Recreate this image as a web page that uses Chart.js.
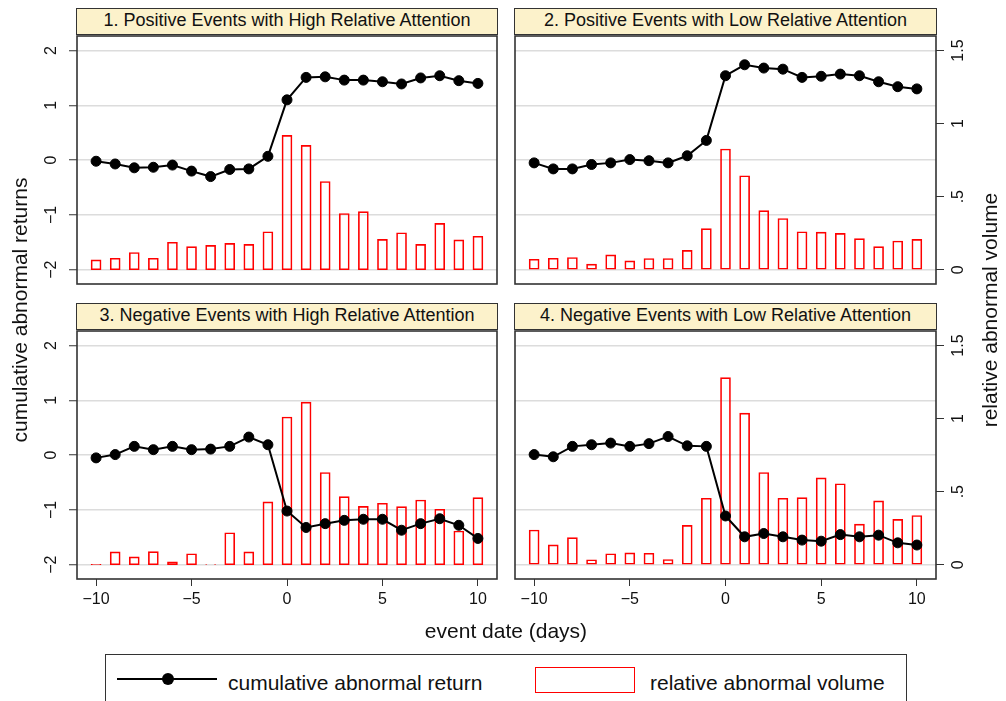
<!DOCTYPE html>
<html>
<head>
<meta charset="utf-8">
<script src="https://cdn.jsdelivr.net/npm/chart.js@4.4.0/dist/chart.umd.min.js"></script>
<style>
  body { margin: 0; background: #fff; font-family: "Liberation Sans", Arial, sans-serif; color: #111; }
  #wrap { position: relative; width: 1006px; height: 701px; overflow: hidden; }
  canvas { position: absolute; }
  .strip { position: absolute; box-sizing: border-box; height: 27px; background: #fcf2cb;
           border: 1.5px solid #333; font-size: 18px; line-height: 23px; text-align: center; white-space: nowrap; }
  .atitle { position: absolute; width: 300px; height: 24px; line-height: 24px; font-size: 21px;
            text-align: center; white-space: nowrap; }
  .rot { transform: rotate(-90deg); }
  #legend { position: absolute; left: 105px; top: 654px; width: 802px; height: 70px; box-sizing: border-box;
            border: 1.5px solid #333; }
</style>
</head>
<body>
<div id="wrap">
  <canvas id="p1" width="505" height="262" style="left:0;top:30px"></canvas>
  <canvas id="p2" width="501" height="262" style="left:505px;top:30px"></canvas>
  <canvas id="p3" width="505" height="300" style="left:0;top:325px"></canvas>
  <canvas id="p4" width="501" height="300" style="left:505px;top:325px"></canvas>

  <div class="strip" id="s1" style="left:76px;top:8px;width:422px"></div>
  <div class="strip" id="s2" style="left:514px;top:8px;width:423px"></div>
  <div class="strip" id="s3" style="left:76px;top:303px;width:422px"></div>
  <div class="strip" id="s4" style="left:514px;top:303px;width:423px"></div>

  <div class="atitle rot" style="left:-130px;top:298px">cumulative abnormal returns</div>
  <div class="atitle rot" style="left:840px;top:298px">relative abnormal volume</div>
  <div class="atitle" style="left:356px;top:619px">event date (days)</div>

  <div id="legend"></div>
  <div style="position:absolute;left:117px;top:678px;width:100px;height:2px;background:#000"></div>
  <div style="position:absolute;left:162px;top:673px;width:12px;height:12px;border-radius:50%;background:#000"></div>
  <div style="position:absolute;left:228px;top:671px;font-size:21px;line-height:24px;white-space:nowrap">cumulative abnormal return</div>
  <div style="position:absolute;left:535px;top:667px;width:100px;height:26px;box-sizing:border-box;border:1.5px solid #f00"></div>
  <div style="position:absolute;left:650px;top:671px;font-size:21px;line-height:24px;white-space:nowrap">relative abnormal volume</div>
</div>

<script>
// event window
const days = [-10, -9, -8, -7, -6, -5, -4, -3, -2, -1, 0, 1, 2, 3, 4, 5, 6, 7, 8, 9, 10];

const titles = [
  '1. Positive Events with High Relative Attention',
  '2. Positive Events with Low Relative Attention',
  '3. Negative Events with High Relative Attention',
  '4. Negative Events with Low Relative Attention'
];

// cumulative abnormal returns (left axis)
const car1 = [-0.02, -0.07, -0.14, -0.13, -0.09, -0.20, -0.30, -0.17, -0.16, 0.07, 1.10,
              1.51, 1.52, 1.46, 1.46, 1.43, 1.39, 1.50, 1.54, 1.45, 1.40];
const car2 = [-0.05, -0.16, -0.16, -0.08, -0.05, 0.01, -0.01, -0.05, 0.08, 0.36, 1.54,
              1.74, 1.68, 1.66, 1.51, 1.53, 1.57, 1.54, 1.43, 1.34, 1.30];
const car3 = [-0.05, 0.01, 0.16, 0.10, 0.16, 0.10, 0.11, 0.16, 0.33, 0.19, -1.02,
              -1.32, -1.25, -1.19, -1.17, -1.17, -1.37, -1.25, -1.16, -1.28, -1.52];
const car4 = [0.01, -0.03, 0.16, 0.19, 0.22, 0.16, 0.21, 0.34, 0.17, 0.16, -1.11,
              -1.49, -1.43, -1.49, -1.55, -1.57, -1.45, -1.49, -1.46, -1.60, -1.64];

// relative abnormal volume (right axis)
const vol1 = [0.068, 0.079, 0.118, 0.079, 0.188, 0.158, 0.167, 0.181, 0.174, 0.260, 0.919,
              0.851, 0.604, 0.385, 0.398, 0.208, 0.253, 0.174, 0.317, 0.204, 0.229];
const vol2 = [0.072, 0.079, 0.084, 0.038, 0.102, 0.061, 0.077, 0.077, 0.133, 0.281, 0.826,
              0.643, 0.405, 0.351, 0.260, 0.258, 0.249, 0.213, 0.158, 0.197, 0.208];
const vol3 = [0.003, 0.088, 0.054, 0.090, 0.020, 0.075, 0.002, 0.219, 0.088, 0.430, 1.011,
              1.113, 0.631, 0.466, 0.400, 0.421, 0.398, 0.443, 0.380, 0.231, 0.459];
const vol4 = [0.238, 0.136, 0.186, 0.034, 0.075, 0.081, 0.079, 0.036, 0.269, 0.455, 1.281,
              1.038, 0.631, 0.455, 0.459, 0.595, 0.554, 0.278, 0.437, 0.310, 0.337];

const leftTicks = [-2, -1, 0, 1, 2];
const rightTicks = [0, 0.5, 1, 1.5];
const xTicks = [-10, -5, 0, 5, 10];

Chart.defaults.font.family = "'Liberation Sans', Arial, sans-serif";
Chart.defaults.color = '#111';

const fmtNum = v => (v < 0 ? '\u2212' + Math.abs(v) : String(v));
const fmtVol = v => (v > 0 && v < 1 ? String(v).replace(/^0/, '') : String(v));

// box around the plot region, stata style
const frame = {
  id: 'frame',
  afterDraw(chart) {
    const a = chart.chartArea, c = chart.ctx;
    c.save();
    c.strokeStyle = '#333';
    c.lineWidth = 1.6;
    c.strokeRect(a.left, a.top, a.right - a.left, a.bottom - a.top);
    c.restore();
  }
};

// fixed axis sizes so the four plot areas line up exactly
const noPad = s => { s.paddingTop = 0; s.paddingBottom = 0; s.paddingLeft = 0; s.paddingRight = 0; };

function panel(id, car, vol, showLeft, showRight, showX) {
  const padL = showLeft ? 0 : 10;
  const padR = showRight ? 10 : 8;
  new Chart(document.getElementById(id), {
    type: 'bar',
    data: {
      datasets: [
        {
          type: 'line',
          data: days.map((d, i) => ({ x: d, y: car[i] })),
          yAxisID: 'y',
          borderColor: '#000',
          borderWidth: 2,
          pointRadius: 5,
          pointBorderWidth: 1,
          pointBackgroundColor: '#000',
          pointBorderColor: '#000',
          tension: 0
        },
        {
          type: 'bar',
          data: days.map((d, i) => ({ x: d, y: vol[i] })),
          yAxisID: 'y1',
          backgroundColor: 'rgba(255,255,255,0)',
          borderColor: '#ff0000',
          borderWidth: 1,
          borderSkipped: false,
          barThickness: 10
        }
      ]
    },
    options: {
      responsive: false,
      animation: false,
      devicePixelRatio: 1,
      layout: { padding: { top: 4, bottom: showX ? 6 : 8, left: padL, right: padR } },
      plugins: { legend: { display: false }, tooltip: { enabled: false } },
      scales: {
        x: {
          type: 'linear',
          min: -11,
          max: 11,
          offset: false,
          display: showX,
          afterBuildTicks: s => { s.ticks = xTicks.map(v => ({ value: v })); },
          afterFit: s => { s.height = showX ? 40 : 0; noPad(s); },
          border: { display: false },
          grid: { offset: false, drawOnChartArea: false, tickLength: 7, tickColor: '#333', tickWidth: 1 },
          ticks: { autoSkip: false, maxRotation: 0, padding: 4, font: { size: 16 }, callback: fmtNum }
        },
        y: {
          type: 'linear',
          position: 'left',
          min: -2.26,
          max: 2.265,
          afterBuildTicks: s => { s.ticks = leftTicks.map(v => ({ value: v })); },
          afterFit: s => { s.width = showLeft ? 77 : 0; noPad(s); },
          border: { display: false },
          grid: { color: '#dcdcdc', lineWidth: 1.5, drawTicks: showLeft, tickLength: 8, tickColor: '#333', tickWidth: 1 },
          ticks: { display: showLeft, minRotation: 90, maxRotation: 90, crossAlign: 'center', padding: 8,
                   font: { size: 16 }, callback: fmtNum }
        },
        y1: {
          type: 'linear',
          position: 'right',
          min: -0.0975,
          max: 1.5995,
          display: showRight,
          afterBuildTicks: s => { s.ticks = rightTicks.map(v => ({ value: v })); },
          afterFit: s => { s.width = showRight ? 60 : 0; noPad(s); },
          border: { display: false },
          grid: { drawOnChartArea: false, tickLength: 8, tickColor: '#333', tickWidth: 1 },
          ticks: { minRotation: 90, maxRotation: 90, crossAlign: 'center', padding: 3,
                   font: { size: 16 }, callback: fmtVol }
        }
      }
    },
    plugins: [frame]
  });
}

titles.forEach((t, i) => { document.getElementById('s' + (i + 1)).textContent = t; });

panel('p1', car1, vol1, true, false, false);
panel('p2', car2, vol2, false, true, false);
panel('p3', car3, vol3, true, false, true);
panel('p4', car4, vol4, false, true, true);
</script>
</body>
</html>
